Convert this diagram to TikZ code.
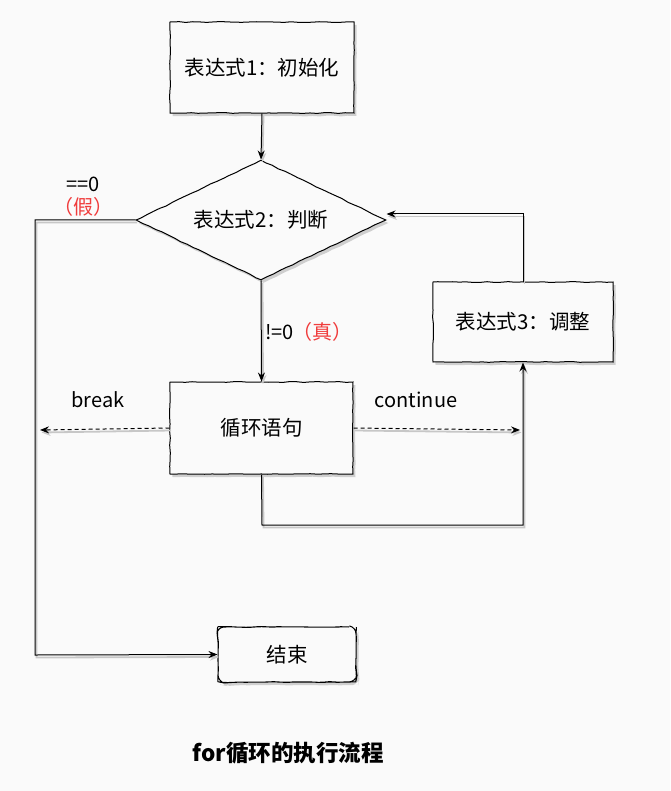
\documentclass[tikz,border=0pt]{standalone}
\usepackage{fontspec}
\setmainfont{Noto Sans CJK SC}
\usetikzlibrary{shapes.geometric,arrows.meta,decorations.pathmorphing,shadows}
\definecolor{bgc}{HTML}{FAFAFA}
\definecolor{redt}{HTML}{F03C3C}
\tikzset{
  sketch/.style={decorate,decoration={random steps,segment length=7pt,amplitude=0.45pt}},
  boxsh/.style={drop shadow={shadow xshift=2.5pt,shadow yshift=-3pt,fill=black!35}},
  proc/.style={draw=black,line width=1pt,fill=bgc,inner sep=0pt,boxsh,sketch,font=\fontsize{20.5}{24}\selectfont},
  conn/.style={line width=1pt,-{Stealth[length=9pt,width=7pt]},
    preaction={draw=black!22,line width=1.8pt,transform canvas={shift={(1.5pt,-2.5pt)}}}},
  dconn/.style={conn,dashed,dash pattern=on 4pt off 3pt},
  lbl/.style={font=\fontsize{20}{24}\selectfont,inner sep=0pt},
}
\begin{document}
\begin{tikzpicture}[x=1pt,y=-1pt]
\useasboundingbox[fill=bgc] (0,0) rectangle (670,791);
\node[proc,minimum width=184pt,minimum height=91pt] (init) at (262,67.5) {表达式1：初始化};
\node[proc,diamond,aspect=2.08,minimum width=250pt,minimum height=120pt] (cond) at (261,220) {表达式2：判断};
\node[proc,minimum width=183pt,minimum height=92pt] (body) at (261.5,428) {循环语句};
\node[proc,minimum width=180pt,minimum height=80pt] (adj) at (523,322) {表达式3：调整};
\node[proc,rounded corners=7pt,minimum width=138pt,minimum height=55pt] (end) at (287,654.5) {结束};

\coordinate (l1) at (35,220);
\coordinate (l2) at (35,655);
\coordinate (b1) at (262,525);
\coordinate (b2) at (523,525);
\coordinate (a1) at (523,214);
\coordinate (brk) at (40,430);
\coordinate (cnt) at (520,430);

\draw[conn] (init.south) -- (cond.north);
\draw[conn] (cond.west) -- (l1) -- (l2) -- (end.west);
\draw[conn] (cond.south) -- (body.north);
\draw[dconn] (body.west) -- (brk);
\draw[dconn] (body.east) -- (cnt);
\draw[conn] (body.south) -- (b1) -- (b2) -- (adj.south);
\draw[conn] (adj.north) -- (a1) -- (cond.east |- a1);

\node[lbl] (eq) at (83,184) {==0};
\node[lbl,text=redt] (jia) at (83,207) {（假）};
\node[lbl,anchor=west] (ne) at (265,332) {!=0};
\node[lbl,anchor=west,text=redt] (zhen) at (292,332) {（真）};
\node[lbl] (brkl) at (98,400) {break};
\node[lbl] (cntl) at (416,400) {continue};
\node[font=\fontsize{22.5}{26}\selectfont\bfseries,inner sep=0pt] (title) at (288,753) {for循环的执行流程};
\end{tikzpicture}
\end{document}
